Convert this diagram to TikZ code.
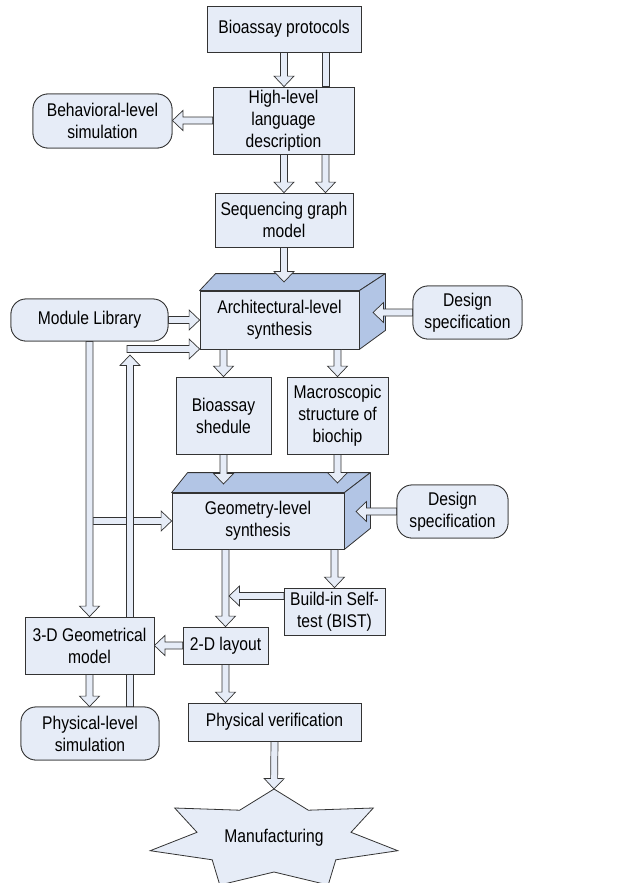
\documentclass[tikz,border=0pt]{standalone}
\usepackage{fontspec}
\setmainfont{Liberation Sans}[FakeStretch=0.85]
\usetikzlibrary{calc}
\definecolor{boxfill}{HTML}{E6ECF7}
\definecolor{facefill}{HTML}{B2C5E5}
\definecolor{edgecol}{HTML}{333333}
\tikzset{
  box/.style={draw=edgecol, fill=boxfill, line width=0.8pt, inner sep=0pt, align=center,
    font=\fontsize{18.4}{22}\selectfont},
  rbox/.style={box, rounded corners=15pt},
  face/.style={draw=edgecol, fill=facefill, line width=0.8pt, line join=round},
  blockarrow/.style={draw=edgecol, fill=boxfill, line width=0.7pt, line join=miter},
}
\newcommand\barrow[2]{%
  \coordinate (ba-s) at #1;
  \coordinate (ba-e) at #2;
  \coordinate (ba-h) at ($(ba-e)!10.5pt!(ba-s)$);
  \filldraw[blockarrow] ($(ba-s)!3.5pt!90:(ba-e)$) -- ($(ba-h)!3.5pt!90:(ba-e)$)
    -- ($(ba-h)!10pt!90:(ba-e)$) -- (ba-e) -- ($(ba-h)!10pt!-90:(ba-e)$)
    -- ($(ba-h)!3.5pt!-90:(ba-e)$) -- ($(ba-s)!3.5pt!-90:(ba-e)$) -- cycle;
}
\newcommand\bshaft[2]{%
  \coordinate (ba-s) at #1;
  \coordinate (ba-e) at #2;
  \filldraw[blockarrow] ($(ba-s)!3.5pt!90:(ba-e)$) -- ($(ba-e)!3.5pt!-90:(ba-s)$)
    -- ($(ba-e)!3.5pt!90:(ba-s)$) -- ($(ba-s)!3.5pt!-90:(ba-e)$) -- cycle;
}
\begin{document}
\begin{tikzpicture}[x=1pt,y=-1pt]
\useasboundingbox (0,0) rectangle (622,883);
\clip (0,0) rectangle (622,883);

% helper coordinates
\coordinate (c2) at (325.5,0);
\coordinate (archtop) at (284,282);
\coordinate (fbT) at (130,355);
\coordinate (fbL) at (127,349);
\coordinate (ds1t) at (373,312.5);
\coordinate (ds2t) at (356,511.5);
\coordinate (bsT) at (223.5,484);
\coordinate (macT) at (337.5,483);
\coordinate (brS) at (93,521);
\coordinate (bistS) at (284,596);
\coordinate (bistT) at (229,596);
\coordinate (starTop) at (274,789);

% node outlines for anchors
\path
  node[box, minimum width=154pt, minimum height=46pt] (bp) at (284,29) {}
  node[box, minimum width=141pt, minimum height=67pt] (hl) at (283.5,120.5) {}
  node[rbox, minimum width=139pt, minimum height=54pt] (beh) at (102.5,121) {}
  node[box, minimum width=138pt, minimum height=54pt] (sg) at (284,220) {}
  node[rbox, minimum width=109pt, minimum height=53pt] (ds1) at (467.5,312.5) {}
  node[rbox, minimum width=157pt, minimum height=42pt] (ml) at (89.5,320) {}
  node[box, minimum width=95pt, minimum height=77pt] (bs) at (223.5,415.5) {}
  node[box, minimum width=101pt, minimum height=77pt] (mac) at (337.5,415.5) {}
  node[rbox, minimum width=111pt, minimum height=53pt] (ds2) at (452.5,511.5) {}
  node[box, minimum width=101pt, minimum height=47pt] (bist) at (334.5,611.5) {}
  node[box, minimum width=85pt, minimum height=37pt] (l2d) at (225.5,645.5) {}
  node[box, minimum width=129pt, minimum height=57pt] (g3d) at (89.5,645.5) {}
  node[rbox, minimum width=138pt, minimum height=53pt] (psim) at (90,733.5) {}
  node[box, minimum width=173pt, minimum height=38pt] (pv) at (274.5,722) {};

% 3-D boxes first
\node[box, minimum width=159pt, minimum height=58pt] (arch) at (279.5,320) {Architectural-level\\synthesis};
\filldraw[face] (arch.north west) -- ++(16,-17) -- ($(arch.north east)+(26,-17)$) -- (arch.north east) -- cycle;
\filldraw[face] (arch.north east) -- ++(26,-17) -- ($(arch.south east)+(26,-19)$) -- (arch.south east) -- cycle;

\node[box, minimum width=172pt, minimum height=56pt] (geo) at (258,521) {Geometry-level\\synthesis};
\filldraw[face] (geo.north west) -- ++(16,-20) -- ($(geo.north east)+(26,-20)$) -- (geo.north east) -- cycle;
\filldraw[face] (geo.north east) -- ++(26,-20) -- ($(geo.south east)+(26,-21)$) -- (geo.south east) -- cycle;

% connectors
\barrow{(brS)}{(geo.west |- brS)}
\barrow{(ml.south)}{(g3d.north)}
\barrow{(psim.north -| fbT)}{(fbT)}
\barrow{(fbL)}{(arch.south west |- fbL)}
\bshaft{(c2 |- bp.south)}{(c2 |- hl.north)}
\barrow{(bp.south)}{(bp.south |- hl.north)}
\barrow{(hl.west)}{(beh.east |- hl.west)}
\barrow{(bp.south |- hl.south)}{(bp.south |- sg.north)}
\barrow{(c2 |- hl.south)}{(c2 |- sg.north)}
\barrow{(sg.south)}{(archtop)}
\barrow{(ml.east)}{(arch.west |- ml.east)}
\barrow{(ds1.west)}{(ds1t)}
\barrow{(bs.north |- arch.south)}{(bs.north)}
\barrow{(mac.north |- arch.south)}{(mac.north)}
\barrow{(bs.south)}{(bsT)}
\barrow{(mac.south)}{(macT)}
\barrow{(ds2.west)}{(ds2t)}
\barrow{(l2d.north |- geo.south)}{(l2d.north)}
\barrow{(bist.north |- geo.south)}{(bist.north)}
\barrow{(bistS)}{(bistT)}
\barrow{(l2d.west)}{(g3d.east)}
\barrow{(g3d.south)}{(psim.north -| g3d.south)}
\barrow{(l2d.south)}{(pv.north -| l2d.south)}
\barrow{(pv.south)}{(starTop)}

% boxes
\node[box, minimum width=154pt, minimum height=46pt] at (bp) {Bioassay protocols};
\node[box, minimum width=141pt, minimum height=67pt] at (hl) {High-level\\language\\description};
\node[rbox, minimum width=139pt, minimum height=54pt] at (beh) {Behavioral-level\\simulation};
\node[box, minimum width=138pt, minimum height=54pt] at (sg) {Sequencing graph\\model};
\node[rbox, minimum width=109pt, minimum height=53pt] at (ds1) {Design\\specification};
\node[rbox, minimum width=157pt, minimum height=42pt] at (ml) {Module Library};
\node[box, minimum width=95pt, minimum height=77pt] at (bs) {Bioassay\\shedule};
\node[box, minimum width=101pt, minimum height=77pt] at (mac) {Macroscopic\\structure of\\biochip};
\node[rbox, minimum width=111pt, minimum height=53pt] at (ds2) {Design\\specification};
\node[box, minimum width=101pt, minimum height=47pt] at (bist) {Build-in Self-\\test (BIST)};
\node[box, minimum width=85pt, minimum height=37pt] at (l2d) {2-D layout};
\node[box, minimum width=129pt, minimum height=57pt] at (g3d) {3-D Geometrical\\model};
\node[rbox, minimum width=138pt, minimum height=53pt] at (psim) {Physical-level\\simulation};
\node[box, minimum width=173pt, minimum height=38pt] at (pv) {Physical verification};

% star
\filldraw[draw=edgecol, fill=boxfill, line width=0.8pt, line join=miter]
  (starTop) -- (308.3,810.2) -- (373.3,808.0) -- (351.0,832.3) -- (397.8,850.7)
  -- (335.8,859.8) -- (328.2,885.0) -- (274,872) -- (219.8,885.0) -- (212.2,859.8)
  -- (150.2,850.7) -- (197.0,832.3) -- (174.7,808.0) -- (239.7,810.2) -- cycle;
\node[font=\fontsize{18.4}{22}\selectfont, inner sep=0pt] (manuf) at (274,838) {Manufacturing};
\end{tikzpicture}
\end{document}
